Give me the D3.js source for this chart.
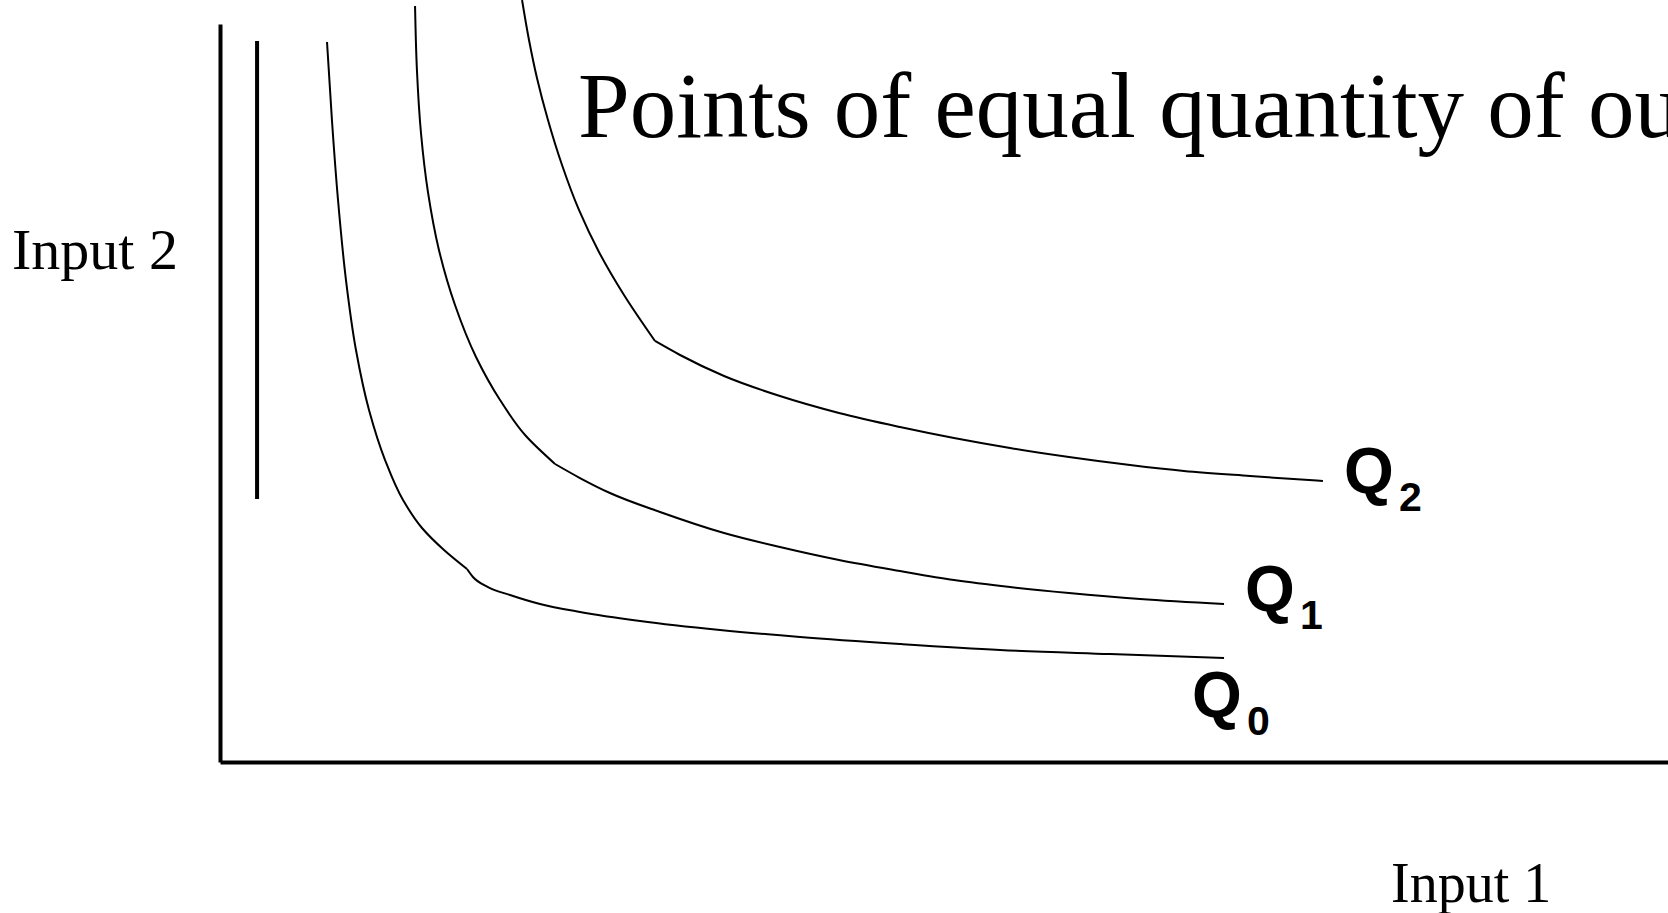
<!DOCTYPE html>
<html>
<head>
<meta charset="utf-8">
<script src="https://cdn.jsdelivr.net/npm/d3@7/dist/d3.min.js"></script>
<style>
  html, body { margin: 0; padding: 0; background: #fff; overflow: hidden; }
  svg { display: block; }
  .serif { font-family: "Liberation Serif", "Times New Roman", serif; fill: #000; }
  .qlab { font-family: "Liberation Sans", Arial, sans-serif; font-weight: bold; fill: #000; }
</style>
</head>
<body>
<svg id="chart" width="1668" height="913"></svg>
<script>
// Isoquants: [input1, input2] pairs, each split into a steep and a flat branch
const q0Steep = [[7.39,97.56],[7.73,86.99],[8.15,76.15],[8.70,65.31],[9.39,55.83],[10.29,47.70],
  [11.40,40.92],[12.64,35.50],[13.95,31.71],[15.47,28.73],[17.06,26.15]];
const q0Flat = [[17.06,26.15],[17.47,25.07],[18.51,23.71],[20.03,22.63],[22.10,21.41],[24.86,20.33],
  [29.01,19.11],[34.53,17.89],[40.06,16.94],[46.96,15.99],[53.87,15.18],[61.46,14.63],[69.34,14.09]];

const q1Steep = [[13.47,102.44],[13.60,93.77],[13.88,85.23],[14.36,77.24],[15.12,69.38],[16.23,61.92],
  [17.68,54.88],[19.34,49.05],[21.13,44.17],[23.14,40.38]];
const q1Flat = [[23.14,40.38],[24.86,38.48],[26.93,36.45],[30.39,33.88],[34.81,31.03],[38.67,29.13],
  [42.75,27.37],[46.96,25.88],[50.69,24.66],[54.56,23.71],[58.63,22.90],[63.54,22.09],[69.34,21.41]];

const q2Steep = [[20.86,103.25],[21.34,97.83],[21.89,92.68],[22.65,86.99],[23.62,80.89],[24.79,74.80],
  [26.17,69.11],[27.90,63.28],[30.04,57.05]];
const q2Flat = [[30.04,57.05],[31.77,55.15],[34.81,52.30],[38.67,49.59],[42.75,47.29],[46.96,45.39],
  [50.69,43.90],[54.56,42.55],[58.63,41.33],[62.85,40.24],[66.57,39.43],[71.13,38.75],[76.17,38.08]];

const isoquants = [
  { name: "Q", sub: "0", steep: q0Steep, flat: q0Flat },
  { name: "Q", sub: "1", steep: q1Steep, flat: q1Flat },
  { name: "Q", sub: "2", steep: q2Steep, flat: q2Flat }
];

// Bracket line beside the vertical axis: [input1, input2 from, input2 to]
const bracket = [2.56, 97.70, 35.64];

const titleText = "Points of equal quantity of output";
const xLabel = "Input 1";
const yLabel = "Input 2";

// label offsets (px) from each curve's end point
const labelOffsets = [[-32, 59], [21, 7], [21, 12]];

const svg = d3.select("#chart");
const x = d3.scaleLinear().domain([0, 100]).range([220, 1668]);
const y = d3.scaleLinear().domain([0, 100]).range([762, 24]);

// axes (domain lines only)
svg.append("g").attr("transform", `translate(0,${y(0)})`)
  .call(d3.axisBottom(x).ticks(0).tickSizeOuter(0));
svg.append("g").attr("transform", `translate(${x(0)},0)`)
  .call(d3.axisLeft(y).ticks(0).tickSizeOuter(0));
svg.selectAll(".domain").attr("stroke", "#000").attr("stroke-width", 4);

// bracket line
svg.append("line")
  .attr("x1", x(bracket[0])).attr("x2", x(bracket[0]))
  .attr("y1", y(bracket[1])).attr("y2", y(bracket[2]))
  .attr("stroke", "#000").attr("stroke-width", 4);

const steepLine = d3.line().x(d => x(d[0])).y(d => y(d[1])).curve(d3.curveMonotoneY);
const flatLine = d3.line().x(d => x(d[0])).y(d => y(d[1])).curve(d3.curveMonotoneX);

isoquants.forEach((q, i) => {
  svg.append("path").attr("d", steepLine(q.steep))
    .attr("fill", "none").attr("stroke", "#000").attr("stroke-width", 2);
  svg.append("path").attr("d", flatLine(q.flat))
    .attr("fill", "none").attr("stroke", "#000").attr("stroke-width", 2);
  const end = q.flat[q.flat.length - 1];
  const lx = x(end[0]) + labelOffsets[i][0];
  const ly = y(end[1]) + labelOffsets[i][1];
  svg.append("text").attr("class", "qlab").attr("x", lx).attr("y", ly)
    .attr("font-size", 64).text(q.name);
  svg.append("text").attr("class", "qlab").attr("x", lx + 55).attr("y", ly + 18)
    .attr("font-size", 41).text(q.sub);
});

// title and axis labels
svg.append("text").attr("class", "serif").attr("x", 578).attr("y", 137)
  .attr("font-size", 93).text(titleText);
svg.append("text").attr("class", "serif").attr("x", 12).attr("y", 269)
  .attr("font-size", 58).text(yLabel);
svg.append("text").attr("class", "serif").attr("x", 1391).attr("y", 902)
  .attr("font-size", 56).text(xLabel);
</script>
</body>
</html>
